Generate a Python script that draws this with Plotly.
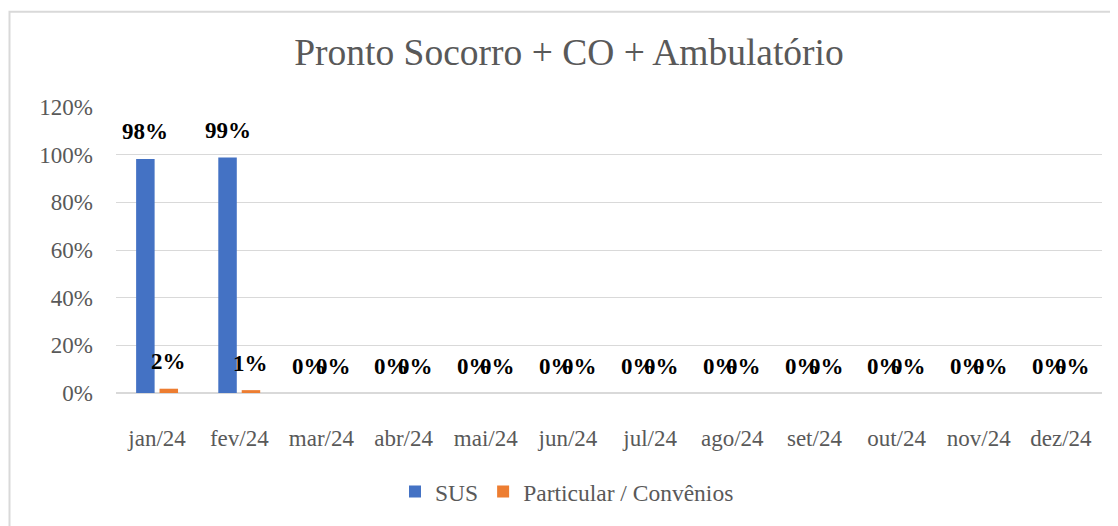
import plotly.graph_objects as go

months = ["jan/24", "fev/24", "mar/24", "abr/24", "mai/24", "jun/24",
          "jul/24", "ago/24", "set/24", "out/24", "nov/24", "dez/24"]
sus = [0.982, 0.988, 0, 0, 0, 0, 0, 0, 0, 0, 0, 0]
particular = [0.018, 0.012, 0, 0, 0, 0, 0, 0, 0, 0, 0, 0]
series_names = ["SUS", "Particular / Convênios"]
colors = ["#4472C4", "#ED7D31"]
y_ticks = [0, 0.2, 0.4, 0.6, 0.8, 1.0, 1.2]

FONT = "Liberation Serif, Times New Roman, serif"
BARGAP = 0.43
BARGROUPGAP = 0.21

fig = go.Figure()
for name, vals, col in zip(series_names, [sus, particular], colors):
    fig.add_trace(go.Bar(x=months, y=vals, name=name, marker_color=col,
                         marker_line_width=0, hoverinfo="skip"))

# data labels
off = (1 - BARGAP) / 4
annots = []
for k, vals in enumerate([sus, particular]):
    dx = -off if k == 0 else off
    for i, v in enumerate(vals):
        annots.append(dict(x=i + dx, y=v, xref="x", yref="y",
                           text=f"<b>{round(v*100):.0f}%</b>", showarrow=False,
                           yanchor="middle", yshift=27,
                           font=dict(family=FONT, size=23, color="#000000")))

# page has an 8px body margin; work in page pixels and shift
OFF = 8
W, H = 1118 - OFF, 526 - OFF
L, R, T, B = 116 - OFF, 16, 107 - OFF, 526 - 397
pw, ph = W - L - R, H - T - B
def px(x):
    return (x - OFF - L) / pw
def py(y):
    return (H - B - (y - OFF)) / ph

fig.add_shape(type="rect", xref="paper", yref="paper",
              x0=px(9.5), x1=px(1140), y0=py(540), y1=py(10.5),
              line=dict(color="#D9D9D9", width=2), fillcolor="rgba(0,0,0,0)", layer="below")

fig.update_layout(
    width=W, height=H,
    margin=dict(l=L, r=R, t=T, b=B),
    paper_bgcolor="white", plot_bgcolor="white",
    barmode="group", bargap=BARGAP, bargroupgap=BARGROUPGAP,
    title=dict(text="Pronto Socorro + CO + Ambulatório", x=(569 - OFF) / W, xref="container",
               xanchor="center", y=1 - (52 - OFF) / H, yref="container", yanchor="middle",
               font=dict(family=FONT, size=37.5, color="#595959")),
    font=dict(family=FONT, size=23, color="#595959"),
    legend=dict(orientation="h", x=px(567), xanchor="center", y=py(497), yanchor="middle",
                font=dict(family=FONT, size=23.5, color="#595959"), itemclick=False),
    annotations=annots,
    showlegend=True,
)
fig.update_yaxes(range=[0, 1.2], tickvals=y_ticks, tickformat=".0%",
                 showgrid=True, gridcolor="#D9D9D9", gridwidth=1,
                 zeroline=True, zerolinecolor="#D9D9D9", zerolinewidth=1.5,
                 showline=False, ticks="", ticklabelstandoff=22,
                 tickfont=dict(family=FONT, size=23, color="#595959"))
fig.update_xaxes(showgrid=False, showline=False, ticks="outside", ticklen=24,
                 tickcolor="rgba(0,0,0,0)",
                 tickfont=dict(family=FONT, size=23, color="#595959"))

fig.write_html("out.html")
